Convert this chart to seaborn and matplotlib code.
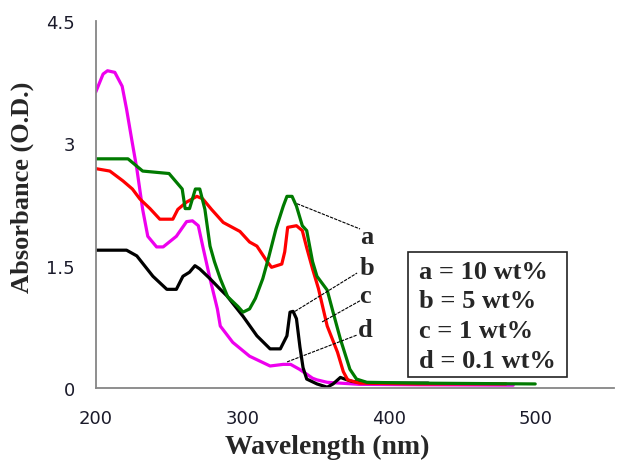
import numpy as np
import pandas as pd
import seaborn as sns
import matplotlib
matplotlib.use("Agg")
import matplotlib.pyplot as plt
from matplotlib.patches import Rectangle

# ---- data ----
# a = 10 wt% (green)
a_x = [200, 222, 232, 250, 259, 261, 264, 268, 271, 274.5, 278, 281, 285, 290, 297, 300.5, 305, 309,
       314, 318, 323, 328, 330.5, 334, 337, 341, 344, 348, 351, 358, 362, 367, 373.5, 378, 385, 420, 500]
a_y = [2.81, 2.81, 2.66, 2.63, 2.44, 2.20, 2.20, 2.44, 2.44, 2.19, 1.74, 1.55, 1.34, 1.12, 1.00, 0.93, 0.97, 1.10,
       1.34, 1.60, 1.95, 2.23, 2.35, 2.35, 2.23, 1.99, 1.93, 1.55, 1.37, 1.20, 0.93, 0.60, 0.23, 0.11, 0.07, 0.06, 0.05]

# b = 5 wt% (black)
b_x = [200, 221, 228, 239, 248.5, 255, 259.5, 264, 267.7, 271, 278, 285, 289.5, 300.5, 310, 319, 326, 330.5,
       332.6, 334.7, 337, 339.4, 341.5, 344, 351, 358, 362, 367, 370, 375, 390, 427]
b_y = [1.69, 1.69, 1.62, 1.37, 1.21, 1.21, 1.37, 1.42, 1.50, 1.46, 1.34, 1.21, 1.13, 0.88, 0.64, 0.48, 0.48, 0.64,
       0.93, 0.94, 0.85, 0.50, 0.25, 0.11, 0.05, 0.01, 0.05, 0.13, 0.11, 0.08, 0.06, 0.06]

# c = 1 wt% (red)
c_x = [200, 209.6, 218.5, 225, 230, 237, 243.7, 252.6, 256, 262, 269, 273, 279, 287, 298.4, 305, 310, 317, 320,
       327, 329, 331, 337, 341, 344, 348, 352, 358, 365, 369, 372, 380, 420, 480]
c_y = [2.69, 2.66, 2.54, 2.44, 2.32, 2.20, 2.07, 2.07, 2.19, 2.28, 2.35, 2.32, 2.19, 2.03, 1.92, 1.79, 1.74, 1.55, 1.48,
       1.52, 1.67, 1.97, 1.99, 1.93, 1.72, 1.46, 1.22, 0.76, 0.44, 0.20, 0.10, 0.06, 0.05, 0.05]

# d = 0.1 wt% (magenta)
d_x = [200, 205, 208, 213, 218, 221, 224.5, 228, 232, 235.5, 241.5, 246, 255, 262, 266, 270, 273, 278, 283, 285,
       293.5, 305, 319, 328, 333, 339, 344, 348, 351, 358, 380, 420, 485]
d_y = [3.63, 3.85, 3.89, 3.87, 3.70, 3.42, 3.05, 2.69, 2.19, 1.86, 1.73, 1.73, 1.86, 2.04, 2.05, 1.99, 1.74, 1.34,
       0.97, 0.76, 0.56, 0.39, 0.27, 0.29, 0.29, 0.23, 0.17, 0.12, 0.10, 0.07, 0.045, 0.04, 0.035]

series_names = ["d", "b", "c", "a"]          # drawing order
colors = {"a": "#007A00", "b": "#000000", "c": "#FF0000", "d": "#EE00EE"}
legend_lines = ["a = 10 wt%", "b = 5 wt%", "c = 1 wt%", "d = 0.1 wt%"]
x_ticks = [200, 300, 400, 500]
y_ticks = [0, 1.5, 3, 4.5]
y_tick_labels = ["0", "1.5", "3", "4.5"]

frames = []
for name, xs, ys in [("a", a_x, a_y), ("b", b_x, b_y), ("c", c_x, c_y), ("d", d_x, d_y)]:
    frames.append(pd.DataFrame({"wl": xs, "abs": ys, "series": name, "idx": range(len(xs))}))
df = pd.concat(frames, ignore_index=True)

# ---- figure ----
sns.set_style("white")
plt.rcParams["font.family"] = ["DejaVu Sans"]
fig = plt.figure(figsize=(6.18, 4.64), dpi=100)
ax = fig.add_axes([0.155, 0.1616, 0.839, 0.791])

sns.lineplot(data=df, x="wl", y="abs", hue="series", hue_order=series_names,
             palette=colors, sort=False, estimator=None, legend=False,
             linewidth=2.3, ax=ax)

ax.set_xlim(200, 554)
ax.set_ylim(0, 4.5)
ax.set_xticks(x_ticks)
ax.set_xticklabels([str(t) for t in x_ticks])
ax.set_yticks(y_ticks)
ax.set_yticklabels(y_tick_labels)

for s in ["top", "right"]:
    ax.spines[s].set_visible(False)
for s in ["left", "bottom"]:
    ax.spines[s].set_color("#868686")
    ax.spines[s].set_linewidth(1.3)
ax.tick_params(axis="both", direction="out", length=6, width=1.2, color="#868686",
               labelsize=13, labelcolor="#1a1a2a", pad=9)

serif = ["Liberation Serif", "DejaVu Serif"]
ax.set_xlabel("Wavelength (nm)", fontsize=20, fontweight="bold", family=serif)
ax.set_ylabel("Absorbance (O.D.)", fontsize=19, fontweight="bold", family=serif)
ax.xaxis.set_label_coords(0.446, -0.125)
ax.yaxis.set_label_coords(-0.12, 0.55)

# ---- annotation leaders and letters ----
ann = [("a", (337.4, 2.26), (380.4, 1.95), (385, 1.86)),
       ("b", (336.0, 0.94), (378.4, 1.41), (385, 1.48)),
       ("c", (354.5, 0.81), (380.4, 1.07), (384, 1.14)),
       ("d", (330.6, 0.32), (378.4, 0.65), (384, 0.72))]
for lab, p0, p1, pt in ann:
    ax.plot([p0[0], p1[0]], [p0[1], p1[1]], color="black", lw=0.8, ls=(0, (3, 1)))
    ax.text(pt[0], pt[1], lab, fontsize=19, fontweight="bold", family=serif,
            ha="center", va="center")

# ---- legend box ----
ax.add_patch(Rectangle((413.3, 0.135), 522 - 413.3, 1.67 - 0.135, fill=False,
                       edgecolor="#222222", lw=1.2, zorder=5))
for i, t in enumerate(legend_lines):
    ax.text(420.5, 1.43 - i * 0.363, t, fontsize=19, fontweight="bold", family=serif,
            ha="left", va="center", zorder=6)

fig.savefig("out.png", dpi=100)
